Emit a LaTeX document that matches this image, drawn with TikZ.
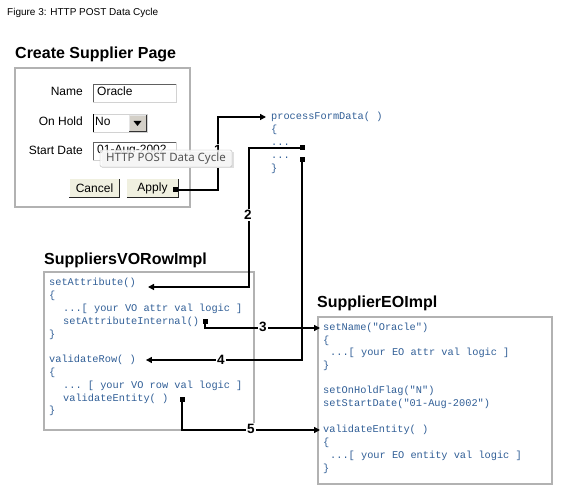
\documentclass[tikz,border=0pt]{standalone}
\usepackage{fontspec}
\setmainfont{Liberation Sans}
\setmonofont{Liberation Mono}
\newfontfamily\tipfont{Noto Sans}
\usetikzlibrary{arrows.meta}
\definecolor{codeblue}{RGB}{48,94,150}
\definecolor{boxgray}{RGB}{178,178,178}
\definecolor{btnfill}{RGB}{240,240,224}
\definecolor{winface}{RGB}{212,208,200}

\begin{document}
\begin{tikzpicture}[x=1pt,y=-1pt]
\tikzstyle{codebox}=[draw=boxgray,line width=1.3pt]
\tikzstyle{title}=[anchor=west,inner sep=0pt,font=\fontsize{16}{17}\selectfont\bfseries]
\tikzstyle{code}=[anchor=west,inner sep=0pt,text height=7pt,text depth=2pt,text=codeblue,font=\fontsize{10.3}{13}\ttfamily]
\tikzstyle{lbl}=[anchor=east,inner sep=0pt,text height=8.5pt,text depth=2.5pt,font=\fontsize{12}{14}\selectfont]
\tikzstyle{field}=[anchor=west,inner sep=0pt,text height=8.5pt,text depth=2.5pt,font=\fontsize{12}{14}\selectfont]
\tikzstyle{button}=[fill=btnfill,minimum height=18pt,inner sep=0pt,font=\fontsize{12}{14}\selectfont]
\tikzstyle{marker}=[fill=black,minimum size=5pt,inner sep=0pt]
\tikzstyle{num}=[fill=white,inner sep=1.5pt,font=\fontsize{13.5}{14}\selectfont\bfseries]
\tikzstyle{link}=[line width=1.3pt,-{Triangle[length=6pt,width=6pt]}]
\useasboundingbox (0,0) rectangle (568,494);

% caption
\node[anchor=west,inner sep=0pt,font=\fontsize{10}{12}\selectfont] (cap) at (7,13) {Figure 3: HTTP POST Data Cycle};

% create supplier page
\node[title] (ttlpage) at (15,54) {Create Supplier Page};
\draw[codebox] (15,68) rectangle (190,207);
\node[lbl] (lname) at (83,93) {Name};
\node[lbl] (lhold) at (83,123) {On Hold};
\node[lbl] (ldate) at (83,152) {Start Date};
\draw[fill=white,draw=gray!35] (93,84) rectangle (176,102);
\draw[gray!75!black] (93,102) |- (176,84);
\node[field] (fname) at (97,93) {Oracle};
\draw[fill=white,draw=gray!35] (93,114) rectangle (147,132);
\draw[line width=1pt] (93.5,114) -- (93.5,132);
\node[field] (fhold) at (95,123) {No};
\draw[fill=winface,draw=gray!20] (129,115) rectangle (146,131);
\draw[gray!40!black] (129,131) -| (146,115);
\fill (133.5,121) -- (141.5,121) -- (137.5,126) -- cycle;
\draw[fill=white,draw=gray!35] (93,142) rectangle (176,160);
\draw[gray!75!black] (93,160) |- (176,142);
\node[field] (fdate) at (97,151) {01-Aug-2002};
\node[button,minimum width=50pt] (cancel) at (94.5,188) {Cancel};
\draw[line width=1.2pt,gray!30!black] (cancel.south west) -| (cancel.north east);
\node[button,minimum width=51pt] (apply) at (152.5,188) {Apply\hspace{14pt}};
\draw[line width=1.2pt,gray!30!black] (apply.south west) -| (apply.north east);
\node[marker] (sq1) at (175,190) {};

% processFormData
\node[code] (pfd) at (271,117) {processFormData( )};
\node[code] (pfd1) at (271,130) {\{};
\node[code] (pfd2) at (271,143) {...};
\node[code] (pfd3) at (271,156) {...};
\node[code] (pfd4) at (271,169) {\}};
\node[marker] (sq2) at (302,148) {};
\node[marker] (sq4) at (302,160) {};

% SuppliersVORowImpl
\node[title] (ttlvo) at (44,260) {SuppliersVORowImpl};
\draw[codebox] (44,272) rectangle (254,430);
\node[code] (vo0) at (49,283) {setAttribute()};
\node[code] (vo1) at (49,296) {\{};
\node[code] (vo2) at (63,309) {...[ your VO attr val logic ]};
\node[code] (vo3) at (63,322) {setAttributeInternal()};
\node[code] (vo4) at (49,335) {\}};
\node[code] (vo5) at (49,360) {validateRow( )};
\node[code] (vo6) at (49,373) {\{};
\node[code] (vo7) at (63,386) {... [ your VO row val logic ]};
\node[code] (vo8) at (63,399) {validateEntity( )};
\node[code] (vo9) at (49,411) {\}};
\node[marker] (sq3) at (205,322) {};
\node[marker] (sq5) at (182,400) {};

% SupplierEOImpl
\node[title] (ttleo) at (317,303) {SupplierEOImpl};
\draw[codebox] (318,317) rectangle (552,484);
\node[code] (eo0) at (323,328) {setName("Oracle")};
\node[code] (eo1) at (323,341) {\{};
\node[code] (eo2) at (330,353) {...[ your EO attr val logic ]};
\node[code] (eo3) at (323,366) {\}};
\node[code] (eo4) at (323,391) {setOnHoldFlag("N")};
\node[code] (eo5) at (323,404) {setStartDate("01-Aug-2002")};
\node[code] (eo6) at (323,430) {validateEntity( )};
\node[code] (eo7) at (323,443) {\{};
\node[code] (eo8) at (330,456) {...[ your EO entity val logic ]};
\node[code] (eo9) at (323,469) {\}};

% connectors
\coordinate (c1) at (218,117);
\coordinate (c2) at (249,287);
\coordinate (t1) at (266,117);
\coordinate (t2) at (148,287);
\draw[link] (sq1.center) -| (c1) -- (t1);
\node[num] (n1) at (218,150) {1};
\draw[link] (sq2.center) -| (c2) -- (t2);
\node[num] (n2) at (248,215) {2};
\draw[link] (sq3.center) |- ([xshift=-3pt]eo0.west);
\node[num] (n3) at (263,327) {3};
\draw[link] (sq4.center) |- ([xshift=10pt]vo5.east);
\node[num] (n4) at (221,360) {4};
\draw[link] (sq5.center) |- ([xshift=-3pt]eo6.west);
\node[num] (n5) at (251,429) {5};

% tooltip
\fill[gray!25] (102,152) rectangle (234,168);
\node[draw=gray!55,fill=gray!4,fill opacity=0.85,text opacity=1,rounded corners=1.5pt,
  minimum width=132pt,minimum height=17pt,inner sep=0pt,text=gray!65!black,
  font=\tipfont\fontsize{11.5}{12}\selectfont] (tip) at (166,158.5) {HTTP POST Data Cycle};
\end{tikzpicture}
\end{document}
